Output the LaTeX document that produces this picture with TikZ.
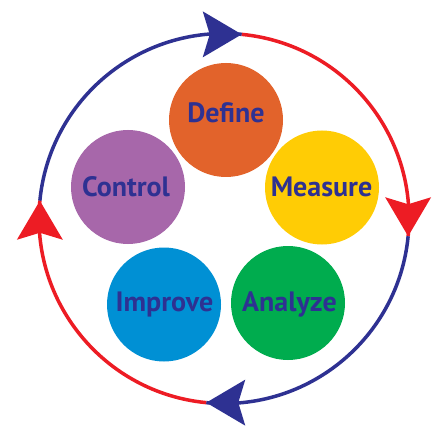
\documentclass[tikz,border=0pt]{standalone}
\usepackage{fontspec}
\setmainfont{PT Sans}
\usetikzlibrary{calc}
\definecolor{cDefine}{HTML}{E2632B}
\definecolor{cMeasure}{HTML}{FFCC05}
\definecolor{cAnalyze}{HTML}{00AC4E}
\definecolor{cImprove}{HTML}{0090D4}
\definecolor{cControl}{HTML}{A767AA}
\definecolor{cText}{HTML}{2E3192}
\definecolor{cBlue}{HTML}{2E3192}
\definecolor{cRed}{HTML}{ED1C24}
\tikzset{
  stage/.style={circle, minimum size=114pt, inner sep=0pt, draw=none},
  lbl/.style={anchor=base, text=cText, inner sep=0pt, font=\bfseries\fontsize{28}{32}\selectfont},
  ring/.style={line width=3.5pt}
}
\begin{document}
\begin{tikzpicture}[x=1pt,y=1pt]
\useasboundingbox[fill=white] (0,0) rectangle (447,429);
% stage circles
\node[stage, fill=cDefine]  (define)  at (226,309)   {};
\node[stage, fill=cMeasure] (measure) at (322,241.5) {};
\node[stage, fill=cAnalyze] (analyze) at (288,126)   {};
\node[stage, fill=cImprove] (improve) at (164,124.5) {};
\node[stage, fill=cControl] (control) at (128,242)   {};
% labels
\node[lbl] (tdefine)  at (226,306)   {Define};
\node[lbl] (tmeasure) at (321.5,232) {Measure};
\node[lbl] (tanalyze) at (289.5,118) {Analyze};
\node[lbl] (timprove) at (164.5,118) {Improve};
\node[lbl] (tcontrol) at (126,232)   {Control};
% cycle ring
\coordinate (O) at (224,210.5);
\coordinate (pTop)    at ($(O)+(84.5:185)$);
\coordinate (pRight)  at ($(O)+(-5.5:185)$);
\coordinate (pBottom) at ($(O)+(-95.5:185)$);
\coordinate (pLeft)   at ($(O)+(174.5:185)$);
\draw[ring, cBlue] (pLeft)   arc[start angle=174.5, end angle=84.5,  radius=185];
\draw[ring, cRed]  (pTop)    arc[start angle=84.5,  end angle=-5.5,  radius=185];
\draw[ring, cBlue] (pRight)  arc[start angle=-5.5,  end angle=-95.5, radius=185];
\draw[ring, cRed]  (pBottom) arc[start angle=-95.5, end angle=-185.5, radius=185];
% arrowheads
\fill[cBlue, shift={(pTop)}, rotate=0]    (0,0) -- (-39,23) -- (-32,0) -- (-39,-23) -- cycle;
\fill[cRed,  shift={(pRight)}, rotate=-90] (0,0) -- (-39,23) -- (-32,0) -- (-39,-23) -- cycle;
\fill[cBlue, shift={(pBottom)}, rotate=180] (0,0) -- (-39,23) -- (-32,0) -- (-39,-23) -- cycle;
\fill[cRed,  shift={(pLeft)}, rotate=90]  (0,0) -- (-39,23) -- (-32,0) -- (-39,-23) -- cycle;
\end{tikzpicture}
\end{document}
